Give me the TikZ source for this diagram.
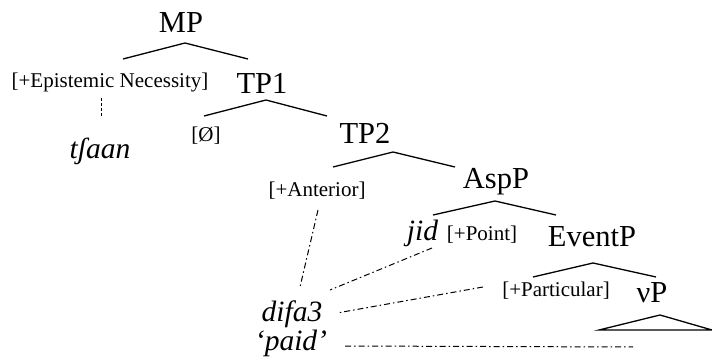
\documentclass[tikz,border=0pt]{standalone}
\usepackage{fontspec}
\setmainfont{Liberation Serif}
\usetikzlibrary{calc,positioning}
\tikzset{
  catLabel/.style={inner sep=0pt,anchor=base,font=\fontsize{30.5}{32}\selectfont},
  featLabel/.style={inner sep=0pt,anchor=base,font=\fontsize{21}{24}\selectfont},
  wordLabel/.style={inner sep=0pt,anchor=base,font=\fontsize{29.5}{32}\selectfont\itshape},
  branchLine/.style={line width=1.3pt},
  linkLine/.style={line width=1pt,dash pattern=on 6pt off 3pt on 1.5pt off 3pt},
}
\begin{document}
\begin{tikzpicture}[x=1pt,y=-1pt]
\useasboundingbox (0,0) rectangle (712,363);
% labels
\node[catLabel] (MP) at (181,33) {MP};
\node[featLabel] (epis) at (110,88) {[+Epistemic Necessity]};
\node[catLabel] (TP1) at (262,94) {TP1};
\node[wordLabel] (tfaan) at (100,159) {tʃaan};
\node[featLabel] (null) at (206,142) {[Ø]};
\node[catLabel] (TP2) at (365,144) {TP2};
\node[featLabel] (ant) at (317,197) {[+Anterior]};
\node[catLabel] (AspP) at (496,189) {AspP};
\node[wordLabel] (jid) at (422.5,241) {jid};
\node[featLabel] (point) at (482,241) {[+Point]};
\node[catLabel] (EventP) at (592,247) {EventP};
\node[featLabel] (part) at (556,297) {[+Particular]};
\node[catLabel] (vP) at (652,302) {νP};
\node[wordLabel] (difa) at (292,322) {difa3};
\node[wordLabel] (paid) at (291,350) {‘paid’};
% branch points
\coordinate (mpTop) at (185,43);  \coordinate (mpL) at (123,59);  \coordinate (mpR) at (248,59);
\coordinate (tpaTop) at (266,100); \coordinate (tpaL) at (204,116); \coordinate (tpaR) at (327,116);
\coordinate (tpbTop) at (393,152); \coordinate (tpbL) at (333,167); \coordinate (tpbR) at (455,167);
\coordinate (aspTop) at (495,201); \coordinate (aspL) at (433,215); \coordinate (aspR) at (556,215);
\coordinate (evTop) at (593,263); \coordinate (evL) at (533,277); \coordinate (evR) at (656,277);
\coordinate (vpTop) at (660,315); \coordinate (vpL) at (599,330); \coordinate (vpR) at (712,330);
\draw[branchLine] (mpL) -- (mpTop) -- (mpR);
\draw[branchLine] (tpaL) -- (tpaTop) -- (tpaR);
\draw[branchLine] (tpbL) -- (tpbTop) -- (tpbR);
\draw[branchLine] (aspL) -- (aspTop) -- (aspR);
\draw[branchLine] (evL) -- (evTop) -- (evR);
\draw[branchLine] (vpTop) -- (vpL) -- (vpR) -- cycle;
% links to the words
\coordinate (episEnd) at (101,98); \coordinate (tfaanEnd) at (101,117);
\draw[line width=1pt,dash pattern=on 3pt off 2pt] (episEnd) -- (tfaanEnd);
\coordinate (antEnd) at (318,210); \coordinate (difaA) at (300,287);
\coordinate (jidEnd) at (432,248); \coordinate (difaB) at (330,290);
\coordinate (partEnd) at (483,287); \coordinate (difaC) at (337,313);
\coordinate (paidEnd) at (345,346); \coordinate (vpEnd) at (633,347);
\draw[linkLine] (antEnd) -- (difaA);
\draw[linkLine] (jidEnd) -- (difaB);
\draw[linkLine] (partEnd) -- (difaC);
\draw[linkLine] (paidEnd) -- (vpEnd);
\end{tikzpicture}
\end{document}
